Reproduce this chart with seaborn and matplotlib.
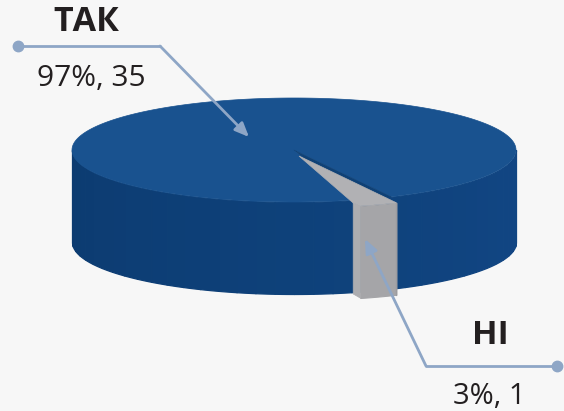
import numpy as np
import matplotlib
matplotlib.use("Agg")
import matplotlib.pyplot as plt
from matplotlib.patches import Polygon
import seaborn as sns

labels = ["ТАК", "НІ"]
values = [35, 1]
percents = [97, 3]

BG = "#f7f7f7"
TOP = "#19528f"
HOLE = "#0f4176"
GREY_TOP = "#b1b1b4"
GREY_WALL = "#a5a5a8"
GREY_EDGE = "#9c9ca0"
LEAD = "#8ea6c6"
INK = "#231f20"

sns.set_theme(style="white")
plt.rcParams["font.family"] = ["Open Sans", "DejaVu Sans"]

cx, cy, rx, ry, depth = 294, 150, 222, 52, 92
explode = (5, 6)

fig = plt.figure(figsize=(5.64, 4.11), dpi=100, facecolor=BG)
ax = fig.add_axes([0, 0, 1, 1])
ax.set_xlim(0, 564)
ax.set_ylim(411, 0)
ax.axis("off")

sweep = 360 * values[1] / sum(values)
a_start = 64.0
a_end = a_start + sweep


def rim(deg):
    t = np.radians(deg)
    return cx + rx * np.cos(t), cy + ry * np.sin(t)


# wall of the large slice: facets, shaded from the left to the right
wall_angles = np.linspace(0, 180, 37)
shades = sns.blend_palette(["#124684", "#0e417a", "#0c3b70"], len(wall_angles) - 1)
for a0, a1, c in zip(wall_angles[:-1], wall_angles[1:], shades):
    x, y = rim(np.linspace(a0, a1, 6))
    ax.fill_between(x, y, y + depth, color=c, lw=0.9, zorder=2)

# top of the large slice
aa = np.linspace(a_end, a_start + 360, 400)
x, y = rim(aa)
ax.add_patch(Polygon(np.r_[[[cx, cy]], np.c_[x, y]], closed=True, fc=TOP, ec=TOP, lw=0.5, zorder=3))

# notch left by the pulled-out small slice
aa = np.linspace(a_start, a_end, 20)
x, y = rim(aa)
ax.add_patch(Polygon(np.r_[[[cx, cy]], np.c_[x, y]], closed=True, fc=HOLE, ec=HOLE, lw=0.3, zorder=3))

# small slice, pulled out
dx, dy = explode
x, y = rim(aa)
x, y = x + dx, y + dy
ax.fill_between(x, y, y + depth, color=GREY_WALL, lw=0.8, zorder=4)
lx, ly = x[-1], y[-1]
ax.add_patch(Polygon([[lx - 7, ly - 3], [lx, ly], [lx, ly + depth], [lx - 7, ly + depth - 4]],
                     closed=True, fc="#adadb0", ec="#adadb0", lw=0.5, zorder=4))
ax.plot([x[0], x[0]], [y[0], y[0] + depth], color=GREY_EDGE, lw=1, zorder=5)
ax.add_patch(Polygon(np.r_[[[cx + dx, cy + dy]], np.c_[x, y], [[lx - 7, ly - 3]]], closed=True,
                     fc=GREY_TOP, ec=GREY_TOP, lw=0.5, zorder=5))

# leader lines
ax.plot([18, 160], [46, 46], color=LEAD, lw=2, solid_capstyle="round", zorder=6)
ax.plot([18], [46], "o", ms=7.5, color=LEAD, zorder=6)
ax.annotate("", xy=(249, 137), xytext=(160, 46), zorder=6,
            arrowprops=dict(arrowstyle="-|>,head_length=0.7,head_width=0.3", color=LEAD, lw=2, shrinkA=0, shrinkB=0))
ax.plot([557, 426], [366, 366], color=LEAD, lw=2, solid_capstyle="round", zorder=6)
ax.plot([557], [366], "o", ms=7.5, color=LEAD, zorder=6)
ax.annotate("", xy=(365, 239), xytext=(426, 366), zorder=6,
            arrowprops=dict(arrowstyle="-|>,head_length=0.7,head_width=0.3", color=LEAD, lw=2, shrinkA=0, shrinkB=0))

# labels
ax.text(86, 22, labels[0], fontsize=24.5, fontweight="bold", color=INK, ha="center", va="center")
ax.text(91.5, 79, f"{percents[0]}%, {values[0]}", fontsize=21.5, color=INK, ha="center", va="center")
ax.text(490.5, 335, labels[1], fontsize=24, fontweight="bold", color=INK, ha="center", va="center")
ax.text(489, 396, f"{percents[1]}%, {values[1]}", fontsize=21, color=INK, ha="center", va="center")

fig.savefig("out.png", dpi=100, facecolor=BG)
